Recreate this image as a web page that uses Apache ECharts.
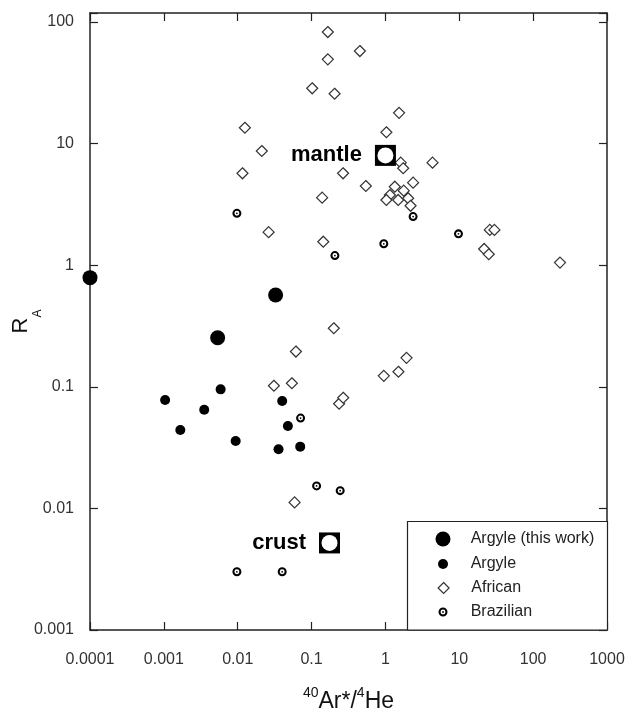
<!DOCTYPE html>
<html>
<head>
<meta charset="utf-8">
<script src="https://cdn.jsdelivr.net/npm/echarts@6/dist/echarts.min.js"></script>
<style>
  html, body { margin: 0; padding: 0; background: #fff; }
  #chart { width: 627px; height: 711px; }
</style>
</head>
<body>
<div id="chart"></div>
<script>
// tick labels
var xTickLabels = ['0.0001', '0.001', '0.01', '0.1', '1', '10', '100', '1000'];
var yTickLabels = ['0.001', '0.01', '0.1', '1', '10', '100'];

// Argyle (this work)
var argyleThisX = [0.0001, 0.0326, 0.00535];
var argyleThisY = [0.79, 0.569, 0.253];

// Argyle
var argyleX = [0.00587, 0.00104, 0.00352, 0.00167, 0.040, 0.0478, 0.00938, 0.0357, 0.0702];
var argyleY = [0.0953, 0.0778, 0.0648, 0.0441, 0.0764, 0.0476, 0.0358, 0.0306, 0.0322];

// African
var africanX = [0.166, 0.451, 0.166, 0.102, 0.205, 1.53, 1.03, 0.0125, 0.0212, 0.0116, 0.0262,
  1.61, 1.74, 4.34, 0.267, 0.543, 1.34, 2.37, 1.77, 1.15, 1.03, 1.49, 2.03, 2.19, 0.139, 0.144,
  25.9, 29.9, 21.7, 25.1, 231,
  0.200, 0.0614, 0.0309, 0.0541, 0.951, 1.50, 1.93, 0.236, 0.268, 0.0589];
var africanY = [82.7, 57.7, 49.3, 28.5, 25.7, 17.9, 12.4, 13.5, 8.69, 5.70, 1.87,
  6.97, 6.27, 6.97, 5.70, 4.48, 4.42, 4.77, 4.10, 3.78, 3.44, 3.44, 3.55, 3.08, 3.59, 1.56,
  1.95, 1.95, 1.36, 1.23, 1.05,
  0.303, 0.195, 0.102, 0.107, 0.123, 0.133, 0.173, 0.0726, 0.0813, 0.0112];

// Brazilian
var brazilX = [0.00975, 2.37, 9.75, 0.951, 0.207, 0.0710, 0.117, 0.244, 0.00975, 0.040];
var brazilY = [2.67, 2.51, 1.81, 1.50, 1.20, 0.0553, 0.0153, 0.0140, 0.00301, 0.00301];

// reference reservoirs
var refNames = ['mantle', 'crust'];
var refX = [1.0, 0.175];
var refY = [8.0, 0.0052];

var FONT = '"Liberation Sans", Arial, sans-serif';
var RING = 'path://M10,0A10,10 0 1,1 10,20A10,10 0 1,1 10,0Z' +
  'M10,4.5A5.5,5.5 0 1,0 10,15.5A5.5,5.5 0 1,0 10,4.5Z' +
  'M10,8A2,2 0 1,1 10,12A2,2 0 1,1 10,8Z';

function pairs(xs, ys) {
  return xs.map(function (x, i) { return [x, ys[i]]; });
}

function decadeLabel(labels, offset) {
  return function (v) {
    var k = Math.log10(v);
    if (Math.abs(k - Math.round(k)) > 1e-6) return '';
    return labels[Math.round(k) + offset] || '';
  };
}

var axisLine = { show: true, lineStyle: { color: '#222', width: 1.5 } };
var tick = { show: true, inside: true, length: 8, lineStyle: { color: '#222', width: 1.2 } };

function legendItem(name, size, rowY, extra) {
  var o = {
    data: [name],
    left: 443 - size / 2,
    top: rowY - 8,
    padding: 0,
    itemWidth: size,
    itemHeight: size,
    selectedMode: false,
    textStyle: {
      fontSize: 16, color: '#222', fontFamily: FONT,
      padding: [0, 0, 0, 470.7 - (443 + size / 2 + 5)]
    }
  };
  if (extra) o.itemStyle = extra;
  return o;
}

var chart = echarts.init(document.getElementById('chart'));
chart.setOption({
  backgroundColor: '#fff',
  animation: false,
  grid: { left: 90, right: 20, top: 13, bottom: 81, outerBoundsMode: 'none' },
  graphic: [{
    type: 'rect',
    z: 1,
    shape: { x: 407.5, y: 521.5, width: 200, height: 108.5 },
    style: { fill: '#fff', stroke: '#222', lineWidth: 1.2 }
  }],
  legend: [
    legendItem('Argyle (this work)', 15, 539),
    legendItem('Argyle', 10, 564),
    legendItem('African', 11, 588, { borderWidth: 1.2, borderColor: '#333' }),
    legendItem('Brazilian', 9, 612)
  ],
  xAxis: [{
    type: 'log', logBase: 10, min: 0.0001, max: 1000, position: 'bottom',
    axisLine: axisLine, axisTick: tick, splitLine: { show: false }, minorTick: { show: false },
    axisLabel: {
      margin: 22, fontSize: 16, color: '#333', fontFamily: FONT,
      formatter: decadeLabel(xTickLabels, 4)
    },
    name: '{s|40}{m|Ar*/}{s|4}{m|He}',
    nameLocation: 'middle',
    nameMoveOverlap: false,
    nameGap: 56,
    nameTextStyle: {
      color: '#111', fontFamily: FONT,
      rich: {
        m: { fontSize: 23, lineHeight: 32, fontFamily: FONT, color: '#111' },
        s: { fontSize: 14, lineHeight: 14, verticalAlign: 'top', fontFamily: FONT, color: '#111' }
      }
    }
  }, {
    type: 'log', logBase: 10, min: 0.0001, max: 1000, position: 'top',
    axisLine: axisLine, axisTick: tick, axisLabel: { show: false }, splitLine: { show: false }
  }],
  yAxis: [{
    type: 'log', logBase: 10, min: 0.001, max: Math.pow(10, 2.074), position: 'left',
    axisLine: axisLine, axisTick: tick, splitLine: { show: false }, minorTick: { show: false },
    axisLabel: {
      margin: 16, fontSize: 16, color: '#333', fontFamily: FONT,
      formatter: decadeLabel(yTickLabels, 3)
    },
    name: '{r|R}{s|A}',
    nameLocation: 'middle',
    nameMoveOverlap: false,
    nameRotate: 90,
    nameGap: 58,
    nameTextStyle: {
      color: '#111', fontFamily: FONT,
      rich: {
        r: { fontSize: 22, lineHeight: 22, verticalAlign: 'top', fontFamily: FONT, color: '#111' },
        s: { fontSize: 12, lineHeight: 12, padding: [33, 0, 0, 0], fontFamily: FONT, color: '#111' }
      }
    }
  }, {
    type: 'log', logBase: 10, min: 0.001, max: Math.pow(10, 2.074), position: 'right',
    axisLine: axisLine, axisTick: tick, axisLabel: { show: false }, splitLine: { show: false }
  }],
  series: [{
    name: 'African', type: 'scatter', clip: false,
    symbol: 'diamond', symbolSize: 11,
    itemStyle: { color: '#fff', borderColor: '#333', borderWidth: 1.2, opacity: 1 },
    data: pairs(africanX, africanY)
  }, {
    name: 'Brazilian', type: 'scatter', clip: false,
    symbol: RING, symbolSize: 9,
    itemStyle: { color: '#000', opacity: 1 },
    data: pairs(brazilX, brazilY)
  }, {
    name: 'Argyle', type: 'scatter', clip: false,
    symbol: 'circle', symbolSize: 10,
    itemStyle: { color: '#000', opacity: 1 },
    data: pairs(argyleX, argyleY)
  }, {
    name: 'Argyle (this work)', type: 'scatter', clip: false,
    symbol: 'circle', symbolSize: 15,
    itemStyle: { color: '#000', opacity: 1 },
    data: pairs(argyleThisX, argyleThisY)
  }, {
    name: 'reservoir', type: 'scatter', clip: false, z: 5,
    symbol: 'rect', symbolSize: 21,
    itemStyle: { color: '#000', opacity: 1 },
    label: {
      show: true, position: 'left', distance: 13,
      formatter: function (p) { return refNames[p.dataIndex]; },
      fontSize: 22, fontWeight: 'bold', color: '#000', fontFamily: FONT
    },
    data: pairs(refX, refY)
  }, {
    name: 'reservoirHole', type: 'scatter', clip: false, z: 6,
    symbol: 'circle', symbolSize: 16,
    itemStyle: { color: '#fff', opacity: 1 },
    data: pairs(refX, refY)
  }]
});
</script>
</body>
</html>
